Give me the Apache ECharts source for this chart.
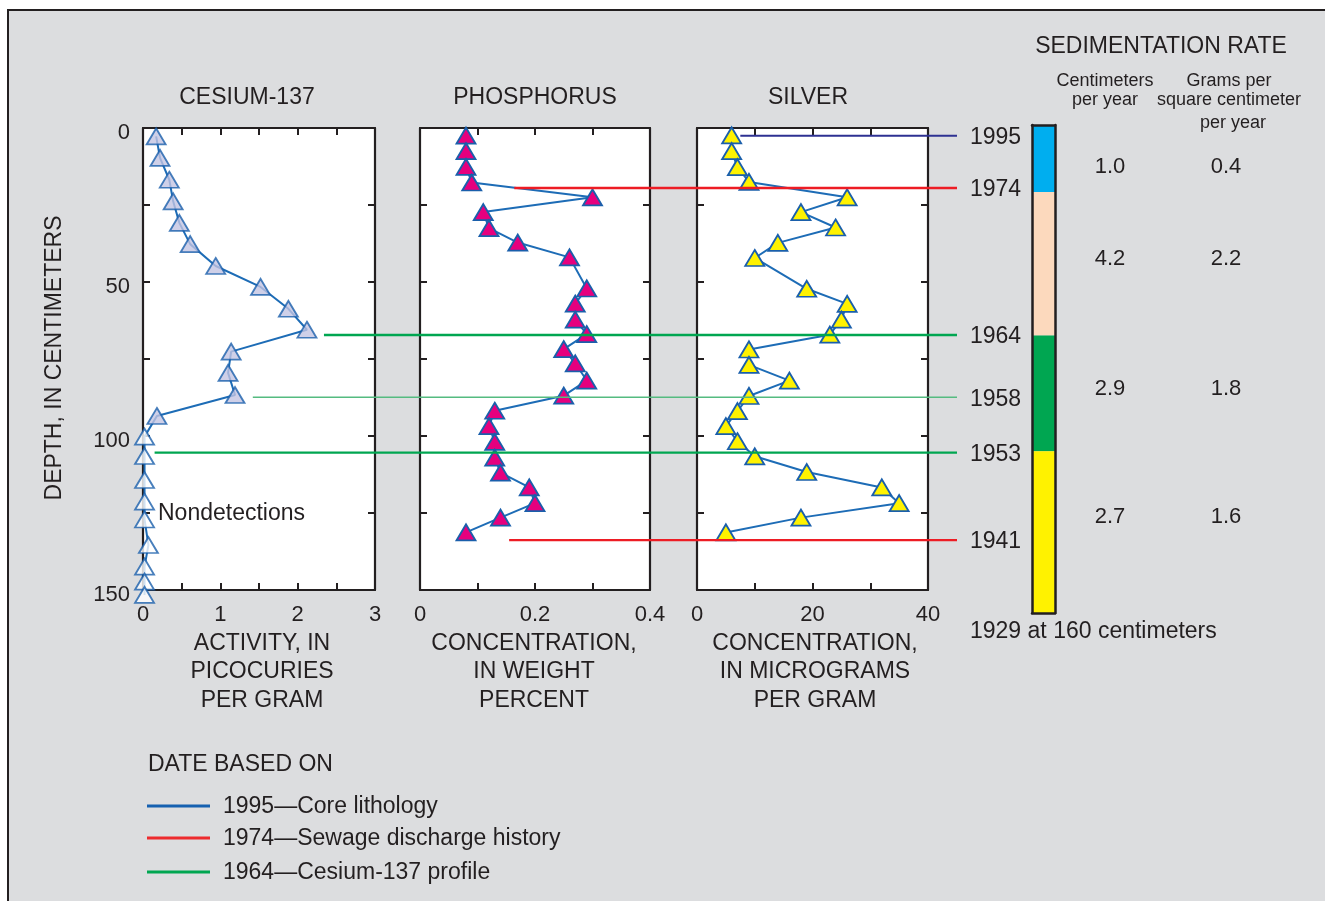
<!DOCTYPE html>
<html>
<head>
<meta charset="utf-8">
<script src="https://cdn.jsdelivr.net/npm/echarts@6/dist/echarts.min.js"></script>
<style>
  html, body { margin: 0; padding: 0; background: #ffffff; }
  #chart { width: 1325px; height: 901px; }
</style>
</head>
<body>
<div id="chart"></div>
<script>
// ---- Core profile data (depth in centimeters) ----
const cesiumDepth = [2.7, 9.7, 16.8, 23.8, 30.8, 37.7, 44.8, 51.6, 58.7, 65.5, 72.6, 79.5, 86.7, 93.5];
const cesiumActivity = [0.17, 0.22, 0.34, 0.39, 0.47, 0.61, 0.94, 1.52, 1.88, 2.12, 1.14, 1.10, 1.19, 0.18];
const nondetectDepth = [100.2, 106.5, 114.3, 121.3, 127.1, 135.4, 142.4, 147.3, 151.6];
const nondetectActivity = [0.02, 0.02, 0.02, 0.02, 0.02, 0.07, 0.02, 0.02, 0.02];

const phosDepth = [2.5, 7.5, 12.6, 17.7, 22.5, 27.3, 32.5, 37.2, 42.0, 52.1, 57.0, 62.2, 66.9, 71.8, 76.4, 82.0, 86.9, 91.8, 96.8, 101.9, 107.0, 111.9, 116.7, 121.8, 126.5, 131.3];
const phosPercent = [0.08, 0.08, 0.08, 0.09, 0.30, 0.11, 0.12, 0.17, 0.26, 0.29, 0.27, 0.27, 0.29, 0.25, 0.27, 0.29, 0.25, 0.13, 0.12, 0.13, 0.13, 0.14, 0.19, 0.20, 0.14, 0.08];

const silverDepth = [2.4, 7.5, 12.7, 17.5, 22.5, 27.3, 32.3, 37.3, 42.2, 52.2, 57.1, 62.2, 67.1, 71.9, 76.9, 82.0, 87.0, 91.9, 96.8, 101.7, 106.6, 111.7, 116.7, 121.8, 126.5, 131.3];
const silverUgG = [6, 6, 7, 9, 26, 18, 24, 14, 10, 19, 26, 25, 23, 9, 9, 16, 9, 7, 5, 7, 10, 19, 32, 35, 18, 5];

// ---- Dated horizons ----
const dateYears = ['1995', '1974', '1964', '1958', '1953', '1941'];
const dateDepths = [2.5, 19.5, 67.2, 87.4, 105.4, 133.8];
const dateStartPanel = [2, 1, 0, 0, 0, 1];           // panel where the horizon line begins
const dateStartValue = [7.5, 0.164, 2.34, 1.42, 0.15, 0.155];
const dateBasis = ['core', 'sewage', 'cesium', 'cesium', 'cesium', 'sewage'];

// ---- Sedimentation-rate column ----
const sedBoundaries = [0, 22, 69, 107, 160];          // depth, cm
const sedRateCm = ['1.0', '4.2', '2.9', '2.7'];
const sedRateG = ['0.4', '2.2', '1.8', '1.6'];

// ---- Axis ticks ----
const depthTicks = { min: 0, max: 150, interval: 25, labelEvery: 50 };
const cesiumTicks = { min: 0, max: 3, interval: 0.5, labelEvery: 1 };
const phosTicks = { min: 0, max: 0.4, interval: 0.1, labelEvery: 0.2 };
const silverTicks = { min: 0, max: 40, interval: 10, labelEvery: 20 };

// ---- Styling ----
const INK = '#231f20';
const FONT = "'Liberation Sans', Arial, Helvetica, sans-serif";
const LINE_BLUE = '#1d6cb6';
const basisColor = { core: '#2e3192', sewage: '#ed1c24', cesium: '#00a651' };
const legendColor = { core: '#1560b0', sewage: '#ed2b2e', cesium: '#00a651' };
const sedColors = ['#00aeef', '#fcd9bd', '#00a651', '#fff200'];

const panelLayout = [
  { left: 143, width: 232, ticks: cesiumTicks },
  { left: 420, width: 230, ticks: phosTicks },
  { left: 697, width: 231, ticks: silverTicks }
];
const PLOT_TOP = 128, PLOT_H = 462;

function isMultiple(v, step) {
  const r = v / step;
  return Math.abs(r - Math.round(r)) < 1e-6;
}
function fmt(v) { return String(+v.toFixed(3)); }

const grids = [], xAxes = [], yAxes = [];
panelLayout.forEach((p, i) => {
  grids.push({ left: p.left, top: PLOT_TOP, width: p.width, height: PLOT_H, show: true,
    backgroundColor: '#ffffff', borderWidth: 0, containLabel: false, outerBoundsMode: 'none' });
  const tickStyle = { show: true, inside: true, length: 7, lineStyle: { color: INK, width: 2 } };
  const lineStyle = { show: true, onZero: false, lineStyle: { color: INK, width: 2.2 } };
  xAxes.push({
    type: 'value', gridIndex: i, position: 'bottom', min: p.ticks.min, max: p.ticks.max, interval: p.ticks.interval,
    axisLine: lineStyle, axisTick: tickStyle, splitLine: { show: false },
    axisLabel: { show: true, margin: 14, color: INK, fontSize: 22, fontFamily: FONT, showMinLabel: true, showMaxLabel: true,
      formatter: v => isMultiple(v, p.ticks.labelEvery) ? fmt(v) : '' }
  });
  xAxes.push({
    type: 'value', gridIndex: i, position: 'top', min: p.ticks.min, max: p.ticks.max, interval: p.ticks.interval,
    axisLine: lineStyle, axisTick: tickStyle, splitLine: { show: false }, axisLabel: { show: false }
  });
  yAxes.push({
    type: 'value', gridIndex: i, position: 'left', inverse: true, min: depthTicks.min, max: depthTicks.max, interval: depthTicks.interval,
    axisLine: lineStyle, axisTick: tickStyle, splitLine: { show: false },
    axisLabel: { show: i === 0, margin: 13, color: INK, fontSize: 22, fontFamily: FONT,
      verticalAlign: 'top', lineHeight: 10,
      showMinLabel: true, showMaxLabel: true,
      formatter: v => isMultiple(v, depthTicks.labelEvery) ? fmt(v) : '' }
  });
  yAxes.push({
    type: 'value', gridIndex: i, position: 'right', inverse: true, min: depthTicks.min, max: depthTicks.max, interval: depthTicks.interval,
    axisLine: lineStyle, axisTick: tickStyle, splitLine: { show: false }, axisLabel: { show: false }
  });
});

// Sedimentation column grid (index 3)
grids.push({ left: 1032, top: 125, width: 23, height: 488, show: false, containLabel: false, outerBoundsMode: 'none' });
const colLine = { show: true, onZero: false, lineStyle: { color: INK, width: 2.5 } };
xAxes.push({ type: 'category', gridIndex: 3, position: 'bottom', data: ['rate'], z: 5,
  axisLine: colLine, axisTick: { show: false }, axisLabel: { show: false }, splitLine: { show: false } });
xAxes.push({ type: 'category', gridIndex: 3, position: 'top', data: ['rate'], z: 5,
  axisLine: colLine, axisTick: { show: false }, axisLabel: { show: false }, splitLine: { show: false } });
yAxes.push({ type: 'value', gridIndex: 3, position: 'left', inverse: true, min: sedBoundaries[0], max: sedBoundaries[sedBoundaries.length - 1], z: 5,
  axisLine: colLine, axisTick: { show: false }, axisLabel: { show: false }, splitLine: { show: false } });
yAxes.push({ type: 'value', gridIndex: 3, position: 'right', inverse: true, min: sedBoundaries[0], max: sedBoundaries[sedBoundaries.length - 1], z: 5,
  axisLine: colLine, axisTick: { show: false }, axisLabel: { show: false }, splitLine: { show: false } });

const zip = (xs, ys) => xs.map((x, k) => [x, ys[k]]);
const triSize = [19, 16];
const markerEdge = { borderColor: '#1a5fab', borderWidth: 1.8 };

const series = [
  // Cesium-137 trace through detections and nondetections
  { type: 'line', xAxisIndex: 0, yAxisIndex: 0, clip: false, symbol: 'none', z: 2,
    data: zip(cesiumActivity.concat(nondetectActivity), cesiumDepth.concat(nondetectDepth)),
    lineStyle: { color: LINE_BLUE, width: 2 } },
  { type: 'scatter', xAxisIndex: 0, yAxisIndex: 0, clip: false, symbol: 'triangle', symbolSize: triSize, z: 3,
    data: zip(cesiumActivity, cesiumDepth), itemStyle: Object.assign({ color: '#c3c4e2' }, markerEdge) },
  { type: 'scatter', xAxisIndex: 0, yAxisIndex: 0, clip: false, symbol: 'triangle', symbolSize: triSize, z: 3,
    data: zip(nondetectActivity, nondetectDepth), itemStyle: Object.assign({ color: '#ffffff' }, markerEdge) },
  // Phosphorus
  { type: 'line', xAxisIndex: 2, yAxisIndex: 2, clip: false, symbol: 'triangle', symbolSize: triSize, showSymbol: true, showAllSymbol: true,
    data: zip(phosPercent, phosDepth), lineStyle: { color: LINE_BLUE, width: 2 },
    itemStyle: Object.assign({ color: '#e6007e' }, markerEdge) },
  // Silver
  { type: 'line', xAxisIndex: 4, yAxisIndex: 4, clip: false, symbol: 'triangle', symbolSize: triSize, showSymbol: true, showAllSymbol: true,
    data: zip(silverUgG, silverDepth), lineStyle: { color: LINE_BLUE, width: 2 },
    itemStyle: Object.assign({ color: '#fff200' }, markerEdge) }
];

// Stacked sedimentation-rate intervals
sedColors.forEach((c, k) => {
  series.push({ type: 'bar', xAxisIndex: 6, yAxisIndex: 6, stack: 'sed', barWidth: '100%', z: 2,
    data: [sedBoundaries[k + 1] - sedBoundaries[k]], itemStyle: { color: c } });
});

const chart = echarts.init(document.getElementById('chart'), null, { renderer: 'canvas' });
chart.setOption({
  animation: false,
  backgroundColor: '#dcdddf',
  tooltip: { show: false },
  grid: grids, xAxis: xAxes, yAxis: yAxes,
  series: series.map(s => Object.assign({ silent: true, emphasis: { disabled: true } }, s))
});

// ---- Annotation layer ----
const TEXT_DY = 2;   // optical baseline correction for Liberation Sans
function txt(text, x, y, opts) {
  opts = opts || {};
  return {
    type: 'text', x: x, y: y + TEXT_DY, rotation: opts.rotation || 0, z: 60, silent: true,
    style: {
      text: text, fill: INK, fontSize: opts.size || 23, fontFamily: FONT,
      align: opts.align || 'center', verticalAlign: opts.valign || 'middle',
      lineHeight: opts.lineHeight
    }
  };
}

const LINE_END_X = 957, DATE_LABEL_X = 970;
const els = [];

// page frame
els.push({ type: 'rect', z: 1, silent: true, shape: { x: 0, y: 0, width: 1325, height: 9 }, style: { fill: '#ffffff' } });
els.push({ type: 'rect', z: 1, silent: true, shape: { x: 0, y: 0, width: 7, height: 901 }, style: { fill: '#ffffff' } });
els.push({ type: 'polyline', z: 2, silent: true, shape: { points: [[8, 901], [8, 10], [1325, 10]] }, style: { stroke: INK, lineWidth: 2, fill: null } });

// dated horizons across the panels
dateYears.forEach((yr, k) => {
  const p = dateStartPanel[k];
  const start = chart.convertToPixel({ xAxisIndex: 2 * p, yAxisIndex: 2 * p }, [dateStartValue[k], dateDepths[k]]);
  const col = yr === '1958' ? '#55bb80' : basisColor[dateBasis[k]];
  const w = yr === '1958' ? 1.5 : (yr === '1995' ? 2 : 2.4);
  els.push({ type: 'line', z: 50, silent: true,
    shape: { x1: start[0], y1: start[1], x2: LINE_END_X, y2: start[1] },
    style: { stroke: col, lineWidth: w } });
  els.push(txt(yr, DATE_LABEL_X, start[1], { align: 'left' }));
});

// panel titles and axis names
els.push(txt('CESIUM-137', 247, 96));
els.push(txt('PHOSPHORUS', 535, 96));
els.push(txt('SILVER', 808, 96));
els.push(txt('ACTIVITY, IN\nPICOCURIES\nPER GRAM', 262, 627, { valign: 'top', lineHeight: 28.5 }));
els.push(txt('CONCENTRATION,\nIN WEIGHT\nPERCENT', 534, 627, { valign: 'top', lineHeight: 28.5 }));
els.push(txt('CONCENTRATION,\nIN MICROGRAMS\nPER GRAM', 815, 627, { valign: 'top', lineHeight: 28.5 }));
els.push(txt('DEPTH, IN CENTIMETERS', 55, 356, { rotation: Math.PI / 2 }));
els.push(txt('Nondetections', 158, 512, { align: 'left' }));

// sedimentation-rate column headings and values
els.push(txt('SEDIMENTATION RATE', 1161, 45));
els.push(txt('Centimeters\nper year', 1105, 70, { size: 18, valign: 'top', lineHeight: 19 }));
els.push(txt('Grams per\nsquare centimeter', 1229, 70, { size: 18, valign: 'top', lineHeight: 19 }));
els.push(txt('per year', 1233, 121, { size: 18 }));
const rateY = [165, 257, 387, 515];
sedRateCm.forEach((v, k) => {
  els.push(txt(v, 1110, rateY[k], { size: 22 }));
  els.push(txt(sedRateG[k], 1226, rateY[k], { size: 22 }));
});
els.push(txt('1929 at 160 centimeters', 970, 630, { align: 'left' }));

// dating-basis key
els.push(txt('DATE BASED ON', 148, 763, { align: 'left' }));
const keyRows = [
  { basis: 'core', label: '1995\u2014Core lithology', y: 806 },
  { basis: 'sewage', label: '1974\u2014Sewage discharge history', y: 838 },
  { basis: 'cesium', label: '1964\u2014Cesium-137 profile', y: 872 }
];
keyRows.forEach(r => {
  els.push({ type: 'line', z: 50, silent: true, shape: { x1: 147, y1: r.y, x2: 210, y2: r.y },
    style: { stroke: legendColor[r.basis], lineWidth: 3 } });
  els.push(txt(r.label, 223, r.y - 1, { align: 'left' }));
});

chart.setOption({ graphic: { elements: els } });
</script>
</body>
</html>
